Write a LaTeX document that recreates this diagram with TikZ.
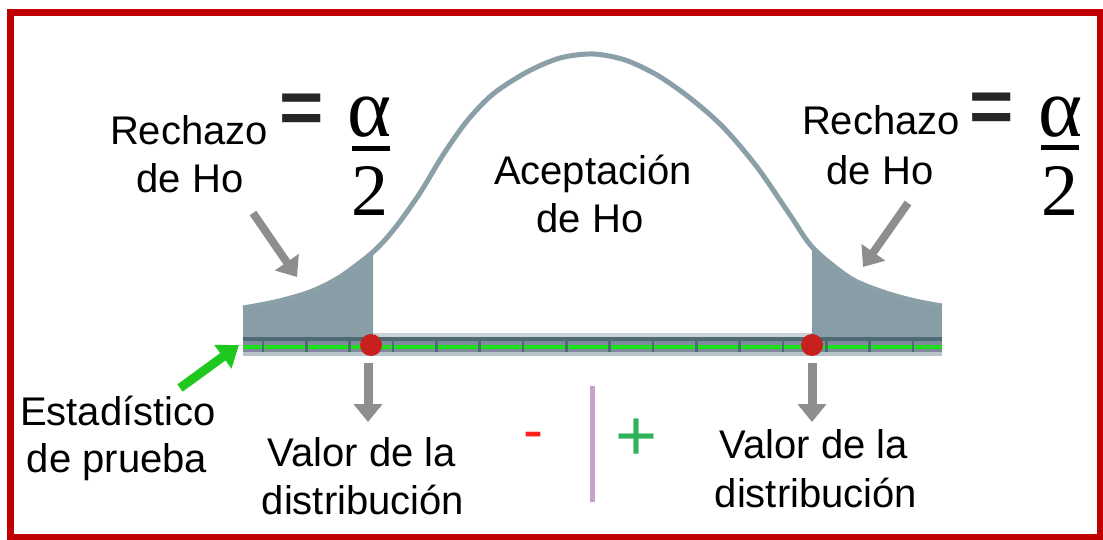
\documentclass[tikz,border=0pt]{standalone}
\usepackage{fontspec}
\setmainfont{Liberation Sans}
\newfontfamily\greekserif{Liberation Serif}
\usetikzlibrary{arrows.meta}
\definecolor{framered}{HTML}{C00000}
\definecolor{curvecol}{HTML}{8A9FA8}
\definecolor{tailcol}{HTML}{889DA5}
\definecolor{arrowgray}{HTML}{8E8E8E}
\definecolor{arrowgreen}{HTML}{1FC81F}
\definecolor{barlight}{HTML}{C9D2D5}
\definecolor{bardark}{HTML}{4E6B73}
\definecolor{barmid}{HTML}{7F8A9C}
\definecolor{barlow}{HTML}{B5C2C6}
\definecolor{barline}{HTML}{1DE01D}
\definecolor{tickcol}{HTML}{4C7070}
\definecolor{dotred}{HTML}{C8201E}
\definecolor{minusred}{HTML}{FF2020}
\definecolor{plusgreen}{HTML}{2EB35A}
\definecolor{pipecol}{HTML}{C9A0CC}
\begin{document}
\begin{tikzpicture}[x=1pt,y=-1pt,
  lbl/.style={font=\fontsize{40}{48}\selectfont, inner sep=0pt, anchor=base},
  eqsign/.style={font=\fontsize{76}{76}\selectfont\bfseries, inner sep=0pt, text=black!85},
  alphasym/.style={font=\fontsize{84}{84}\selectfont\greekserif, inner sep=0pt, anchor=base},
  twosym/.style={font=\fontsize{74}{74}\selectfont\greekserif, inner sep=0pt, anchor=base},
  fracbar/.style={line width=5pt, black},
  grayarrow/.style={draw=arrowgray, line width=9pt, -{Triangle[width=28pt,length=18pt]}},
  greenarrow/.style={draw=arrowgreen, line width=9pt, -{Triangle[width=28pt,length=20pt]}},
  reddot/.style={circle, fill=dotred, minimum size=22pt, inner sep=0pt}
]
\useasboundingbox (0,0) rectangle (1103,540);
\fill[white] (0,0) rectangle (1103,540);
% frame
\draw[framered, line width=7pt] (10.5,12.5) rectangle (1100,537.5);

% shaded tails
\begin{scope}
\clip (243,0) rectangle (373,340) (812,0) rectangle (942,340);
\fill[tailcol] plot[smooth,tension=0.5] coordinates {(243,308) (275,302) (310,292) (340,277) (373,252) (395,228) (420,193) (443,155) (467,121) (493,94) (527,72) (560,58) (593,54) (625,60) (657,75) (690,98) (723,127) (757,167) (790,215) (813,248) (850,278) (883,292) (915,301) (942,306)} -- (942,340) -- (243,340) -- cycle;
\end{scope}
% bell curve
\draw[curvecol, line width=5pt] plot[smooth,tension=0.5] coordinates {(243,308) (275,302) (310,292) (340,277) (373,252) (395,228) (420,193) (443,155) (467,121) (493,94) (527,72) (560,58) (593,54) (625,60) (657,75) (690,98) (723,127) (757,167) (790,215) (813,248) (850,278) (883,292) (915,301) (942,306)};

% axis bar
\fill[barlight] (373,333) rectangle (812,337);
\fill[bardark] (243,337) rectangle (942,341);
\fill[barmid] (243,341) rectangle (942,352);
\fill[barlow] (243,352) rectangle (942,356);
\draw[barline, line width=4pt] (243,346.5) -- (942,346.5);
\foreach \k in {0,...,15} {
  \draw[tickcol, line width=2.5pt] ({263+43.33*\k},341) -- ({263+43.33*\k},352);
}

% critical values
\node[reddot] (dl) at (371,345) {};
\node[reddot] (dr) at (812,345) {};

% labels top left
\node[lbl] (rl1) at (189,145) {Rechazo};
\node[lbl] (rl2) at (190,193) {de Ho};
\node[eqsign] (eql) at (302,114) {=};
\node[alphasym] (al) at (370,137) {α};
\node[twosym] (twl) at (370,215) {2};
\draw[fracbar] (352,149) -- (390,149);

% labels top right
\node[lbl] (rr1) at (881,135) {Rechazo};
\node[lbl] (rr2) at (880,185) {de Ho};
\node[eqsign] (eqr) at (992,113) {=};
\node[alphasym] (ar) at (1060,137) {α};
\node[twosym] (twr) at (1060,215) {2};
\draw[fracbar] (1041,148) -- (1079,148);

% center label
\node[lbl] (ac1) at (593,185) {Aceptación};
\node[lbl] (ac2) at (590,233) {de Ho};

% bottom labels
\node[lbl] (es1) at (118,425) {Estadístico};
\node[lbl] (es2) at (117,472) {de prueba};
\node[lbl] (vl1) at (362,466) {Valor de la};
\node[lbl] (vl2) at (363,514) {distribución};
\node[lbl] (vr1) at (814,458) {Valor de la};
\node[lbl] (vr2) at (816,507) {distribución};

% signs
\node[font=\fontsize{60}{60}\selectfont, text=minusred, inner sep=0pt] (minus) at (533,441) {-};
\node[font=\fontsize{72}{72}\selectfont, text=plusgreen, inner sep=0pt] (plus) at (637,440) {+};
\coordinate (pipetop) at (592,386);
\coordinate (pipebot) at (592,502);
\draw[pipecol, line width=5pt] (pipetop) -- (pipebot);

% arrows
\coordinate (gltail) at (253,213);
\coordinate (gltip) at (297,277);
\draw[grayarrow, line width=8pt] (gltail) -- (gltip);
\coordinate (grtail) at (908,203);
\coordinate (grtip) at (863,267);
\draw[grayarrow, line width=8pt] (grtail) -- (grtip);
\coordinate (dltip) at (368,422);
\draw[grayarrow] (dl.south -| dltip) ++(0,7) -- (dltip);
\coordinate (drtip) at (812,422);
\draw[grayarrow] (dr.south) ++(0,7) -- (drtip);
\coordinate (gntail) at (180,388);
\coordinate (gntip) at (239,345);
\draw[greenarrow] (gntail) -- (gntip);
\end{tikzpicture}
\end{document}
